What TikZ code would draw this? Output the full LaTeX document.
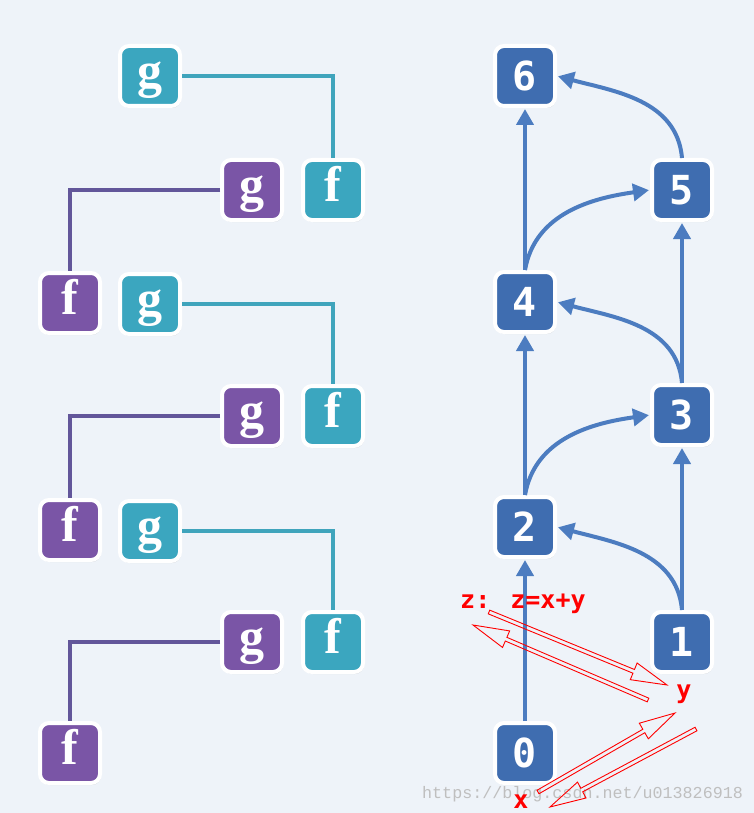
\documentclass[tikz,border=0pt]{standalone}
\usepackage{fontspec}
\usetikzlibrary{calc,arrows.meta,shadows}
\newfontfamily\letterfont{Liberation Serif}
\newfontfamily\digitfont{DejaVu Sans Mono}
\newfontfamily\wmfont{Liberation Mono}
\definecolor{bgc}{HTML}{EEF3F9}
\definecolor{tealbox}{HTML}{3BA6BF}
\definecolor{purplebox}{HTML}{7A55A6}
\definecolor{bluebox}{HTML}{3F6DB0}
\definecolor{arrowblue}{HTML}{4C7CC0}
\definecolor{tealline}{HTML}{3FA4BC}
\definecolor{purpleline}{HTML}{62569A}
\newcommand{\hollowarr}[2]{%
  \coordinate (ha-c) at ($(#2)!36pt!(#1)$);
  \draw[annot] ($(#1)!2pt!90:(#2)$) -- ($(ha-c)!2pt!90:(#2)$) -- ($(ha-c)!9pt!90:(#2)$)
    -- (#2) -- ($(ha-c)!9pt!-90:(#2)$) -- ($(ha-c)!2pt!-90:(#2)$) -- ($(#1)!2pt!-90:(#2)$) -- cycle;}
\tikzset{
  box/.style={rounded corners=9pt, minimum size=60pt, inner sep=0pt, draw=white,
    line width=4pt, text=white,
    general shadow={shadow xshift=1pt, shadow yshift=-2pt, fill=black, opacity=0.12}},
  lbox/.style={box, text height=34pt, text depth=11pt,
    font=\letterfont\bfseries\fontsize{50}{50}\selectfont},
  tbox/.style={lbox, fill=tealbox},
  pbox/.style={lbox, fill=purplebox},
  nbox/.style={box, fill=bluebox, font=\digitfont\bfseries\fontsize{40}{40}\selectfont},
  tline/.style={draw=tealline, line width=3.5pt},
  pline/.style={draw=purpleline, line width=3.5pt},
  flow/.style={draw=arrowblue, line width=4pt, shorten >=1pt, -{Triangle[length=16pt,width=17pt]}},
  annot/.style={draw=red, line width=0.9pt, line join=miter},
  redtext/.style={text=red, inner sep=0pt, font=\digitfont\bfseries\fontsize{25}{25}\selectfont},
  wmark/.style={text=black!25, inner sep=0pt, font=\wmfont\fontsize{16.7}{16.7}\selectfont}
}
\begin{document}
\begin{tikzpicture}[x=1pt,y=1pt]
\fill[bgc] (0,0) rectangle (754,-813);
\useasboundingbox (0,0) rectangle (754,-813);
% left column
\node[tbox] (gt1) at (150,-76) {g};
\node[pbox] (gp1) at (252,-190) {g};
\node[tbox] (ft1) at (333,-190) {f};
\node[pbox] (fp1) at (70,-303) {f};
\node[tbox] (gt2) at (150,-304) {g};
\node[pbox] (gp2) at (252,-416) {g};
\node[tbox] (ft2) at (333,-416) {f};
\node[pbox] (fp2) at (70,-530) {f};
\node[tbox] (gt3) at (150,-531) {g};
\node[pbox] (gp3) at (252,-642) {g};
\node[tbox] (ft3) at (333,-642) {f};
\node[pbox] (fp3) at (70,-753) {f};
\draw[tline] (gt1.east) -| (ft1.north);
\draw[tline] (gt2.east) -| (ft2.north);
\draw[tline] (gt3.east) -| (ft3.north);
\draw[pline] (gp1.west) -| (fp1.north);
\draw[pline] (gp2.west) -| (fp2.north);
\draw[pline] (gp3.west) -| (fp3.north);
% right column
\node[nbox] (n6) at (525,-76) {6};
\node[nbox] (n5) at (682,-190) {5};
\node[nbox] (n4) at (525,-302) {4};
\node[nbox] (n3) at (682,-415) {3};
\node[nbox] (n2) at (525,-527) {2};
\node[nbox] (n1) at (682,-642) {1};
\node[nbox] (n0) at (525,-753) {0};
\draw[flow] (n0) -- (n2);
\draw[flow] (n1) -- (n3);
\draw[flow] (n2) -- (n4);
\draw[flow] (n3) -- (n5);
\draw[flow] (n4) -- (n6);
\draw[flow] (n1.north) to[out=95,in=-15] (n2.east);
\draw[flow] (n2.north) to[out=80,in=188] (n3.west);
\draw[flow] (n3.north) to[out=95,in=-15] (n4.east);
\draw[flow] (n4.north) to[out=80,in=188] (n5.west);
\draw[flow] (n5.north) to[out=95,in=-15] (n6.east);
% watermark
\node[wmark, anchor=base west] (wm) at (422,-798) {https://blog.csdn.net/u013826918};
% annotations
\node[redtext, anchor=base west] (zt) at (460,-608) {z: z=x+y};
\node[redtext, anchor=base] (yt) at (684,-698) {y};
\node[redtext, anchor=base] (xt) at (521,-808) {x};
\coordinate (a1s) at (489,-612); \coordinate (a1e) at (667,-685);
\coordinate (a2s) at (648,-700); \coordinate (a2e) at (473,-625);
\coordinate (a3s) at (538,-792); \coordinate (a3e) at (675,-713);
\coordinate (a4s) at (696,-729); \coordinate (a4e) at (550,-807);
\hollowarr{a1s}{a1e}
\hollowarr{a2s}{a2e}
\hollowarr{a3s}{a3e}
\hollowarr{a4s}{a4e}
\end{tikzpicture}
\end{document}
